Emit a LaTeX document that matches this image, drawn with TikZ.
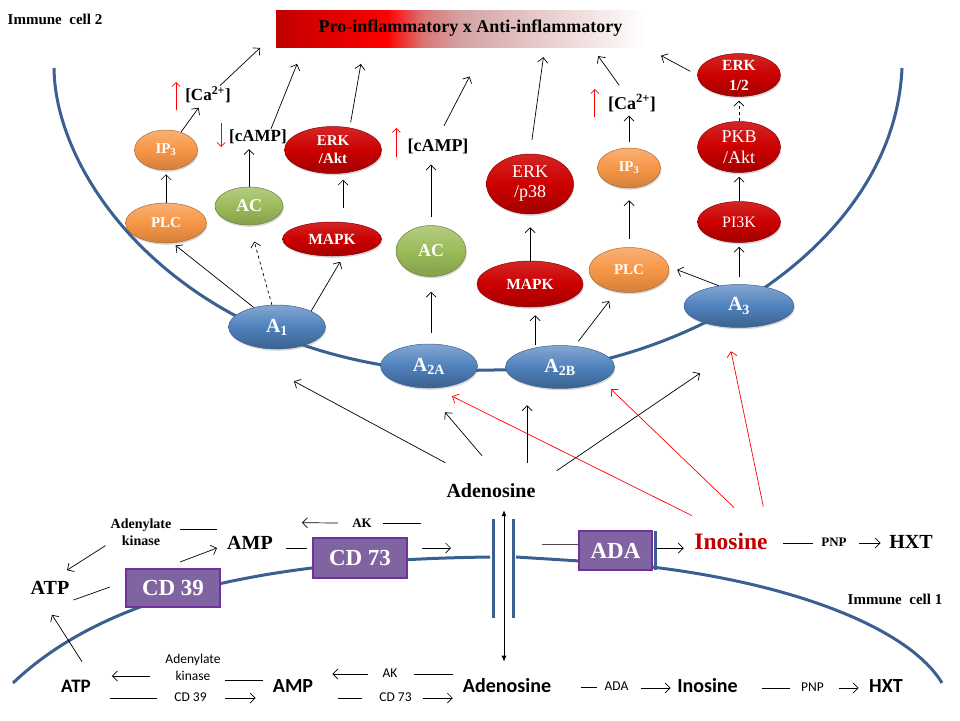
\documentclass[tikz,border=0pt]{standalone}
\usepackage{fontspec}
\setmainfont{Liberation Serif}
\newfontfamily\calibri{Carlito}
\usepackage{xcolor}
\definecolor{mblue}{HTML}{3A5F91}
\definecolor{rblue}{HTML}{4F81BD}
\definecolor{rred}{HTML}{CC0000}
\definecolor{rorange}{HTML}{F79646}
\definecolor{rgreen}{HTML}{9BBB59}
\definecolor{rpurple}{HTML}{8064A2}
\definecolor{rpurpled}{HTML}{7030A0}
\definecolor{inored}{HTML}{C00000}
\definecolor{bdark}{HTML}{C00000}
\definecolor{bbright}{HTML}{FF0000}
\definecolor{bpink}{HTML}{DB7575}
\definecolor{brose}{HTML}{D5A2A2}
\usepackage{tikz}
\usetikzlibrary{arrows.meta,positioning,shapes.geometric,shadows}
\pgfdeclarehorizontalshading{bannershade}{100bp}{color(0bp)=(bdark); color(25bp)=(bdark); color(40bp)=(bbright); color(45bp)=(bpink); color(50bp)=(brose); color(75bp)=(white); color(100bp)=(white)}

\begin{document}
\begin{tikzpicture}[x=1pt,y=-1pt,
  memb/.style={draw=mblue,line width=3pt},
  shd/.style={drop shadow={shadow xshift=.8pt,shadow yshift=-1.8pt,opacity=.3}},
  recep/.style={ellipse,shd,draw=rblue!75!black,line width=.5pt,top color=rblue!70!white,
                bottom color=rblue!75!black,middle color=rblue,inner sep=0pt,text=white,
                font=\fontsize{20}{20}\selectfont\bfseries},
  kin/.style={ellipse,shd,draw=rred!70!black,line width=.5pt,top color=rred!85!white,
              bottom color=rred!80!black,middle color=rred,inner sep=0pt,text=white,align=center},
  plc/.style={ellipse,shd,draw=rorange!70!black,line width=.5pt,top color=rorange!75!white,
              bottom color=rorange!85!black,middle color=rorange,inner sep=0pt,text=white,
              font=\fontsize{15}{15}\selectfont\bfseries},
  cyc/.style={ellipse,shd,draw=rgreen!70!black,line width=.5pt,top color=rgreen!75!white,
              bottom color=rgreen!85!black,middle color=rgreen,inner sep=0pt,text=white,
              font=\fontsize{18}{18}\selectfont\bfseries},
  enz/.style={rectangle,draw=rpurpled,line width=2pt,fill=rpurple,text=white,inner sep=0pt,
              font=\fontsize{23}{23}\selectfont\bfseries},
  banner/.style={rectangle,shading=bannershade,minimum width=369pt,minimum height=37pt,
                 inner sep=0pt,font=\fontsize{18}{18}\selectfont\bfseries},
  mess/.style={inner sep=1pt,font=\fontsize{17}{17}\selectfont\bfseries},
  met/.style={inner sep=1pt,font=\fontsize{20}{20}\selectfont\bfseries},
  enzl/.style={inner sep=1pt,align=center,font=\fontsize{13}{16}\selectfont\bfseries},
  cmet/.style={inner sep=1pt,font=\calibri\fontsize{20}{20}\selectfont\bfseries},
  cenz/.style={inner sep=1pt,align=center,font=\calibri\fontsize{13.5}{17}\selectfont},
  arr/.style={-{Straight Barb[length=5pt,width=10pt]},line width=.7pt,shorten >=4pt},
  rxn/.style={-{Straight Barb[length=5pt,width=10pt]},line width=.7pt},
  seg/.style={line width=.7pt},
  rarr/.style={rxn,draw=red},
  ind/.style={-{Straight Barb[length=4pt,width=8pt]},red,line width=.7pt},
  dbl/.style={{Latex[length=6pt,width=5pt]}-{Latex[length=6pt,width=5pt]},line width=.8pt}]
\useasboundingbox (0,0) rectangle (960,720);

% membranes
\draw[memb] (54,68) .. controls (55,180) and (180,350) .. (430,371) -- (557,369)
  .. controls (720,345) and (895,230) .. (902,68);
\draw[memb] (13,683) .. controls (100,600) and (250,560) .. (490,557);
\draw[memb] (516,557) -- (580,561);
\draw[memb] (652,567) .. controls (800,585) and (910,630) .. (942,683);
\draw[memb] (493,519) -- (493,618);
\draw[memb] (513,519) -- (513,618);
\draw[memb] (655,531) -- (655,570);

\node[font=\fontsize{15}{15}\selectfont\bfseries] (cell2) at (55,19) {Immune\ \ cell 2};
\node[font=\fontsize{15}{15}\selectfont\bfseries] (cell1) at (895,599) {Immune\ \ cell 1};
\node[banner] (banner) at (460.5,28.5) {\hspace*{20pt}Pro-inflammatory x Anti-inflammatory};

% receptors
\node[recep,minimum width=97pt,minimum height=44pt] (A1) at (277,327) {A\textsubscript{1}};
\node[recep,minimum width=97pt,minimum height=44pt] (A2A) at (429,366) {A\textsubscript{2A}};
\node[recep,minimum width=109pt,minimum height=43pt] (A2B) at (560,367) {A\textsubscript{2B}};
\node[recep,minimum width=110pt,minimum height=43pt] (A3) at (739,306) {A\textsubscript{3}};

% cell 2 signalling
\node[plc,minimum width=81pt,minimum height=40pt] (plcL) at (166,223) {PLC};
\node[plc,minimum width=63pt,minimum height=40pt] (ip3L) at (166,150) {IP\textsubscript{3}};
\node[mess] (caL) at (208,95) {[Ca\textsuperscript{2+}]};
\node[cyc,minimum width=68pt,minimum height=38pt] (acL) at (249,206) {AC};
\node[mess] (camL) at (258,137) {[cAMP]};
\node[kin,minimum width=99pt,minimum height=34pt,font=\fontsize{15.5}{15.5}\selectfont\bfseries] (mapkL) at (332,239) {MAPK};
\node[kin,minimum width=97pt,minimum height=47pt,font=\fontsize{15}{18}\selectfont\bfseries] (erkL) at (333,150) {ERK\\/Akt};
\node[cyc,minimum width=70pt,minimum height=51pt] (acM) at (431,251) {AC};
\node[mess,font=\fontsize{18}{18}\selectfont\bfseries] (camM) at (438,146) {[cAMP]};
\node[kin,minimum width=106pt,minimum height=46pt,font=\fontsize{15.5}{15.5}\selectfont\bfseries] (mapkR) at (530,284) {MAPK};
\node[kin,minimum width=87pt,minimum height=60pt,font=\fontsize{18}{20}\selectfont] (erkp) at (530,184) {ERK\\/p38};
\node[plc,minimum width=80pt,minimum height=45pt] (plcR) at (629,270) {PLC};
\node[plc,minimum width=63pt,minimum height=40pt] (ip3R) at (629,168) {IP\textsubscript{3}};
\node[mess,font=\fontsize{18}{18}\selectfont\bfseries] (caR) at (632,103) {[Ca\textsuperscript{2+}]};
\node[kin,minimum width=83pt,minimum height=41pt,font=\fontsize{16}{16}\selectfont] (pi3k) at (739,222) {PI3K};
\node[kin,minimum width=83pt,minimum height=51pt,font=\fontsize{18}{21}\selectfont] (pkb) at (739,147) {PKB\\/Akt};
\node[kin,minimum width=83pt,minimum height=38pt,font=\fontsize{15.5}{20}\selectfont\bfseries] (erk12) at (739,75) {ERK\\1/2};

% up / down markers
\draw[ind] ([shift={(-8,15)}]caL.west) -- ([shift={(-8,-13)}]caL.west);
\draw[ind] ([shift={(-7,-14)}]camL.west) -- ([shift={(-7,10)}]camL.west);
\draw[ind] ([shift={(-10,11)}]camM.west) -- ([shift={(-10,-18)}]camM.west);
\draw[ind] ([shift={(-12,14)}]caR.west) -- ([shift={(-12,-14)}]caR.west);

\draw[arr] (A1.140) -- (plcL.-72);
\draw[arr,dashed,shorten >=17pt] (A1.103) -- (acL.-88);
\draw[arr,shorten >=7pt] (A1.25) -- (mapkL.-55);
\draw[arr] (plcL.north) -- (ip3L.south);
\draw[arr] (ip3L.50) -- ([xshift=-7pt]caL.south);
\draw[arr,shorten >=1pt] ([xshift=12pt]caL.north) -- ([xshift=-15pt]banner.south west);
\draw[arr] (acL.north) -- (camL.south -| acL.north);
\draw[arr,shorten >=18pt] ([xshift=13pt]camL.north) -- ([xshift=28pt]banner.south west);
\draw[arr,shorten <=14pt,shorten >=6pt] ([xshift=11pt]mapkL.north) -- ([xshift=10pt]erkL.south);
\draw[arr,shorten <=4pt,shorten >=17pt] ([xshift=17pt]erkL.north) -- ([xshift=88pt]banner.south west);
\draw[arr,shorten <=11pt,shorten >=15pt] (acM.south |- A2A.north) -- (acM.south);
\draw[arr,shorten <=8pt,shorten >=10pt] (acM.north) -- (camM.south -| acM.north);
\draw[arr,shorten <=13pt,shorten >=33pt] (camM.north) -- ([xshift=209pt]banner.south west);
\draw[arr,shorten >=8pt] ([xshift=-25pt]A2B.north) -- ([xshift=5pt]mapkR.south);
\draw[arr,shorten <=6pt,shorten >=12pt] (A2B.55) -- (plcR.-120);
\draw[arr,shorten >=13pt] (mapkR.north) -- (erkp.south);
\draw[arr,shorten <=14pt,shorten >=10pt] (erkp.north) -- ([xshift=269pt]banner.south west);
\draw[arr,shorten <=8pt,shorten >=12pt] (plcR.north) -- (ip3R.south);
\draw[arr,shorten <=6pt,shorten >=3pt] (ip3R.north) -- (caR.south -| ip3R.north);
\draw[arr,shorten <=10pt,shorten >=11pt] ([xshift=-7pt]caR.north) -- ([xshift=316pt]banner.south west);
\draw[arr,shorten >=9pt] (A3.135) -- (plcR.5);
\draw[arr,shorten <=7pt] (A3.north) -- (pi3k.south);
\draw[arr] (pi3k.north) -- (pkb.south);
\draw[arr,dashed] (pkb.north) -- (erk12.south);
\draw[arr,shorten <=8pt,shorten >=18pt] (erk12.west) -- (banner.south east);

% extracellular, cell 1 surface
\node[met] (adoU) at (491,491) {Adenosine};
\node[met,text=inored,font=\fontsize{23.5}{23.5}\selectfont\bfseries] (inoU) at (731,541) {Inosine};
\node[met] (atpU) at (50,588) {ATP};
\node[met] (ampU) at (250,543) {AMP};
\node[enzl,font=\fontsize{14}{17}\selectfont\bfseries] (akU) at (141,532) {Adenylate\\kinase};
\node[enzl] (akk1) at (362,523) {AK};
\node[enz,minimum width=94pt,minimum height=38pt] (cd39) at (173,588) {CD 39};
\node[enz,minimum width=94pt,minimum height=40pt] (cd73) at (360,558) {CD 73};
\node[enz,minimum width=73pt,minimum height=39pt] (ada) at (615.5,550.5) {ADA};
\node[enzl] (pnpU) at (834,542) {PNP};
\node[met] (hxtU) at (911,542) {HXT};

\draw[rxn] ([shift={(0,-20)}]adoU.north west) -- ([shift={(17,32)}]A1.south);
\draw[rxn] ([shift={(-9,-27)}]adoU.north) -- ([shift={(16,24)}]A2A.south);
\draw[rxn] ([shift={(36,-20)}]adoU.north) -- ([shift={(-33,16.5)}]A2B.south);
\draw[rxn] ([shift={(20,-12)}]adoU.north east) -- ([shift={(-39,45.5)}]A3.south);
\draw[rarr] ([shift={(-1.5,-16)}]inoU.north west) -- ([shift={(23,8)}]A2A.south);
\draw[rarr] ([shift={(3,-24)}]inoU.north) -- ([shift={(51,0.5)}]A2B.south);
\draw[rarr] ([shift={(-5.5,-25)}]inoU.north east) -- ([shift={(-8,23.5)}]A3.south);

\draw[seg] ([shift={(7,-3)}]akU.east) -- ([shift={(-9,-14)}]ampU.west);
\draw[rxn] ([shift={(-4,-1)}]akU.south west) -- ([shift={(17,-10)}]atpU.north);
\draw[rxn] ([shift={(7,-6)}]cd39.north) -- ([shift={(-9,5)}]ampU.west);
\draw[seg] ([shift={(3,12)}]atpU.east) -- ([shift={(-15,-1)}]cd39.west);
\draw[seg] ([shift={(12,5)}]ampU.east) -- ([shift={(-5,-10)}]cd73.west);
\draw[rxn] ([shift={(14,-10)}]cd73.east) -- ([shift={(43,-10)}]cd73.east);
\draw[rxn] ([xshift=-13pt]akk1.west) -- ([shift={(28,-12.5)}]ampU.north east);
\draw[seg] ([xshift=10pt]akk1.east) -- ([xshift=48pt]akk1.east);
\draw[seg,draw=black!70] ([shift={(-36,-6.5)}]ada.west) -- ([shift={(0,-6.5)}]ada.west);
\draw[rxn] ([shift={(3,-2.5)}]ada.east) -- ([shift={(-9.5,7)}]inoU.west);
\draw[seg] ([shift={(14.5,2)}]inoU.east) -- ([shift={(-7.5,1)}]pnpU.west);
\draw[rxn] ([shift={(11.5,1)}]pnpU.east) -- ([shift={(-7.5,1)}]hxtU.west);

% intracellular, cell 1
\node[cmet,font=\calibri\fontsize{19}{19}\selectfont\bfseries] (atpB) at (76,686) {ATP};
\node[cenz] (adkB) at (193,667) {Adenylate\\kinase};
\node[cenz] (cd39B) at (190.5,697) {CD 39};
\node[cmet] (ampB) at (293,686) {AMP};
\node[cenz] (akB) at (390,673) {AK};
\node[cenz] (cd73B) at (395.5,697) {CD 73};
\node[cmet] (adoB) at (507,686) {Adenosine};
\node[cenz] (adaB) at (616.5,686.5) {ADA};
\node[cmet] (inoB) at (707.5,686) {Inosine};
\node[cenz] (pnpB) at (812.5,687) {PNP};
\node[cmet] (hxtB) at (886,686) {HXT};

\draw[dbl,shorten <=11pt,shorten >=16pt] ([xshift=13pt]adoU.south) -- ([xshift=-3pt]adoB.north);
\draw[rxn] ([shift={(6,-17)}]atpB.north) -- ([shift={(2,19)}]atpU.south);
\draw[rxn] ([shift={(-14,9)}]adkB.west) -- ([shift={(20,-10)}]atpB.east);
\draw[seg] ([shift={(3,13)}]adkB.east) -- ([shift={(-9,-6)}]ampB.west);
\draw[seg] ([shift={(18.5,12)}]atpB.east) -- ([shift={(-16,1)}]cd39B.west);
\draw[rxn] ([shift={(17,1)}]cd39B.east) -- ([shift={(-16,12)}]ampB.west);
\draw[rxn] ([shift={(-13.5,1)}]akB.west) -- ([shift={(18,-12)}]ampB.east);
\draw[seg] ([shift={(15.5,1)}]akB.east) -- ([shift={(-9,-12)}]adoB.west);
\draw[seg] ([shift={(24,12)}]ampB.east) -- ([shift={(-16,1)}]cd73B.west);
\draw[rxn] ([shift={(10,1)}]cd73B.east) -- ([shift={(-9,12)}]adoB.west);
\draw[seg] ([shift={(29,1)}]adoB.east) -- ([shift={(-6.5,0.5)}]adaB.west);
\draw[rxn] ([shift={(11.5,1.5)}]adaB.east) -- ([shift={(-5.5,2)}]inoB.west);
\draw[seg] ([shift={(23.5,2)}]inoB.east) -- ([shift={(-9.5,1)}]pnpB.west);
\draw[rxn] ([shift={(13.5,1)}]pnpB.east) -- ([shift={(-9.5,2)}]hxtB.west);
\end{tikzpicture}
\end{document}
